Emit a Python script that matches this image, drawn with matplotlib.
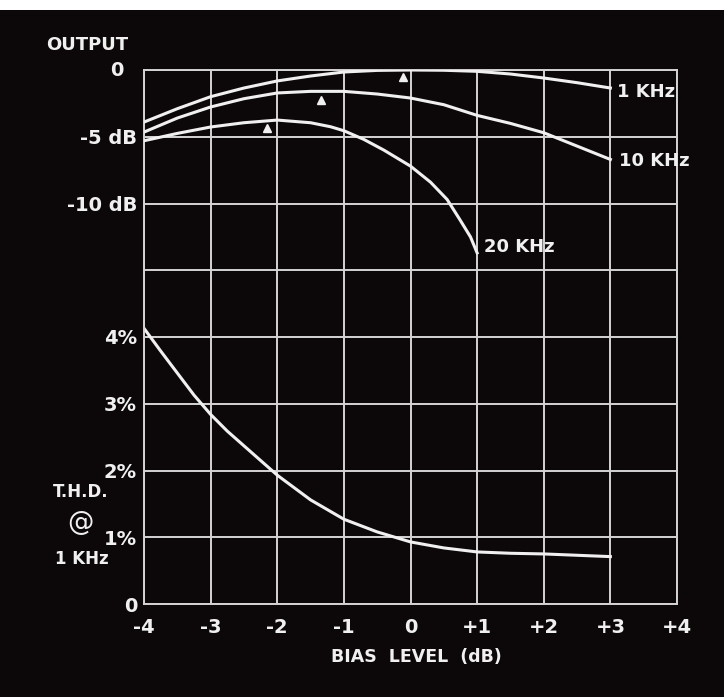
import matplotlib.pyplot as plt
from matplotlib.patches import Rectangle

# bias level (dB)
bias = [-4, -3.5, -3, -2.5, -2, -1.5, -1, -0.5, 0, 0.5, 1, 1.5, 2, 2.5, 3]
out_1k = [-3.9, -2.9, -2.0, -1.35, -0.82, -0.45, -0.15, -0.03, 0.0, -0.02, -0.1, -0.3, -0.6, -0.95, -1.35]
out_10k = [-4.65, -3.6, -2.77, -2.15, -1.72, -1.6, -1.6, -1.8, -2.1, -2.6, -3.4, -4.0, -4.7, -5.7, -6.7]
bias_20k = [-4, -3.5, -3, -2.5, -2, -1.5, -1.2, -1, -0.7, -0.4, -0.2, 0, 0.3, 0.55, 0.74, 0.9, 1.0]
out_20k = [-5.3, -4.75, -4.27, -3.95, -3.75, -3.95, -4.25, -4.55, -5.2, -6.0, -6.6, -7.2, -8.4, -9.7, -11.2, -12.5, -13.7]
bias_thd = [-4, -3.75, -3.5, -3.25, -3, -2.75, -2.5, -2, -1.5, -1, -0.5, 0, 0.5, 1, 1.5, 2, 2.5, 3]
thd_1k = [4.13, 3.79, 3.46, 3.13, 2.84, 2.59, 2.37, 1.93, 1.56, 1.27, 1.08, 0.93, 0.84, 0.78, 0.76, 0.75, 0.73, 0.71]

# optimum-bias markers (little triangles)
peak_bias = [-0.11, -1.34, -2.15]
peak_db = [-0.5, -2.25, -4.35]

x_ticks = [-4, -3, -2, -1, 0, 1, 2, 3, 4]
x_labels = ['-4', '-3', '-2', '-1', '0', '+1', '+2', '+3', '+4']
thd_labels = ['0', '1%', '2%', '3%', '4%']
db_ticks = [-10, -5]
db_labels = ['-10 dB', '-5 dB']

BG = '#0c0809'
GRID = '#d4d4d4'
INK = '#f0f0f0'

fig = plt.figure(figsize=(7.24, 6.97), dpi=100)
fig.patch.set_facecolor('white')
fig.patches.append(Rectangle((0, 0), 1, 687 / 697, transform=fig.transFigure,
                             facecolor=BG, edgecolor='none', zorder=-10))

ax = fig.add_axes([144 / 724, 93 / 697, 533 / 724, 534 / 697])
ax.set_facecolor(BG)
ax.set_xlim(-4, 4)
ax.set_ylim(0, 8)
ax.set_xticks(x_ticks)
ax.set_xticklabels(x_labels)
ax.set_yticks(range(9))
ax.set_yticklabels(thd_labels + [''] * 4)
ax.grid(True, color=GRID, linewidth=1.4)
ax.set_axisbelow(True)
for s in ax.spines.values():
    s.set_color(GRID)
    s.set_linewidth(1.4)
ax.tick_params(length=0, colors=INK, labelsize=14)
ax.tick_params(axis='x', pad=10)
ax.tick_params(axis='y', pad=5)
for lab in ax.get_xticklabels() + ax.get_yticklabels():
    lab.set_fontweight('bold')

# THD curve on the lower half
ax.plot(bias_thd, thd_1k, color=INK, linewidth=2.2, solid_joinstyle='round')

# output curves on a twin axis: 8 rows of 5 dB
ax2 = ax.twinx()
ax2.set_ylim(-40, 0)
ax2.yaxis.set_ticks_position('left')
ax2.yaxis.set_label_position('left')
ax2.set_yticks(db_ticks)
ax2.set_yticklabels(db_labels)
ax2.tick_params(length=0, colors=INK, labelsize=14, pad=5)
for lab in ax2.get_yticklabels():
    lab.set_fontweight('bold')
for s in ax2.spines.values():
    s.set_visible(False)

for xs, ys, name, off in [(bias, out_1k, '1 KHz', (5, -3)),
                          (bias, out_10k, '10 KHz', (6, -1)),
                          (bias_20k, out_20k, '20 KHz', (5, 4))]:
    ax2.plot(xs, ys, color=INK, linewidth=2.2, solid_joinstyle='round')
    ax2.annotate(name, (xs[-1], ys[-1]), xytext=off, textcoords='offset points',
                 color=INK, fontsize=13, fontweight='bold', va='center', ha='left')

ax2.plot(peak_bias, peak_db, linestyle='none', marker='^', markersize=6,
         color=INK, markeredgecolor=INK)

fig.text(87 / 724, 1 - 45 / 697, 'OUTPUT', color=INK, fontsize=13, fontweight='bold',
         ha='center', va='center')
fig.text(117 / 724, 1 - 70 / 697, '0', color=INK, fontsize=14, fontweight='bold',
         ha='center', va='center')
fig.text(81 / 724, 1 - 492 / 697, 'T.H.D.', color=INK, fontsize=12, fontweight='bold',
         ha='center', va='center')
fig.text(80 / 724, 1 - 523 / 697, '@', color=INK, fontsize=19,
         ha='center', va='center')
fig.text(82 / 724, 1 - 559 / 697, '1 KHz', color=INK, fontsize=12, fontweight='bold',
         ha='center', va='center')
fig.text(416 / 724, 1 - 657 / 697, 'BIAS  LEVEL  (dB)', color=INK, fontsize=12.5,
         fontweight='bold', ha='center', va='center')

fig.savefig('out.png', dpi=100, facecolor=fig.get_facecolor())
